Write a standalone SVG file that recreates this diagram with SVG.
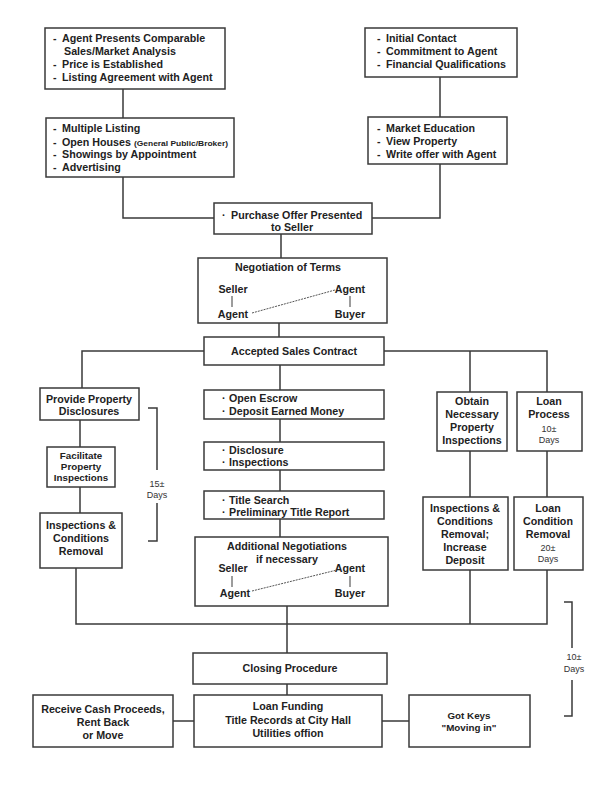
<svg xmlns="http://www.w3.org/2000/svg" width="600" height="800" viewBox="0 0 600 800">
<style>
.box{fill:#fff;stroke:#3a3a3a;stroke-width:1.5}
.ln{fill:none;stroke:#3a3a3a;stroke-width:1.5}
.dot{fill:none;stroke:#555;stroke-width:1;stroke-dasharray:2 1}
text{font-family:"Liberation Sans",Arial,sans-serif;font-weight:bold;font-size:10.7px;fill:#222}
.c{text-anchor:middle}
.s{font-size:9.8px}
.n{font-weight:normal;font-size:9px;fill:#333}
.tiny{font-size:7px;font-weight:bold}
</style>
<rect width="600" height="800" fill="#fff"/>
<g id="connectors">
<path class="ln" d="M123,89V118M440,77V117M123,177V218H214M440,164V218H372M281,234V258M279,323V337"/>
<path class="ln" d="M204,351H82V388M384,351H547V392M470,351V392M280,365V390M280,419V442M280,470V491M280,519V537"/>
<path class="ln" d="M80,420V447M80,487V513M470,451V497M547,451V497"/>
<path class="ln" d="M76,568V624H547V570M470,570V624M287,606V653M287,684V695M173,721H194M382,721H409"/>
<path class="ln" d="M148,408H157V470M157,503V541H148"/>
<path class="ln" d="M564,602H572V648M572,680V716H564"/>
</g>
<g id="n1"><rect class="box" x="45" y="28" width="180" height="61"/>
<text x="53" y="42">-</text><text x="62" y="42">Agent Presents Comparable</text>
<text x="64" y="55">Sales/Market Analysis</text>
<text x="53" y="68">-</text><text x="62" y="68">Price is Established</text>
<text x="53" y="81">-</text><text x="62" y="81">Listing Agreement with Agent</text></g>
<g id="n2"><rect class="box" x="46" y="118" width="188" height="59"/>
<text x="53" y="132">-</text><text x="62" y="132">Multiple Listing</text>
<text x="53" y="146">-</text><text x="62" y="146">Open Houses</text><text class="tiny" x="134" y="146" textLength="94" lengthAdjust="spacingAndGlyphs">(General Public/Broker)</text>
<text x="53" y="158">-</text><text x="62" y="158">Showings by Appointment</text>
<text x="53" y="171">-</text><text x="62" y="171">Advertising</text></g>
<g id="n3"><rect class="box" x="365" y="28" width="152" height="49"/>
<text x="377" y="42">-</text><text x="386" y="42">Initial Contact</text>
<text x="377" y="55">-</text><text x="386" y="55">Commitment to Agent</text>
<text x="377" y="68">-</text><text x="386" y="68">Financial Qualifications</text></g>
<g id="n4"><rect class="box" x="368" y="117" width="139" height="47"/>
<text x="377" y="132">-</text><text x="386" y="132">Market Education</text>
<text x="377" y="145">-</text><text x="386" y="145">View Property</text>
<text x="377" y="158">-</text><text x="386" y="158">Write offer with Agent</text></g>
<g id="n5"><rect class="box" x="214" y="203" width="158" height="31"/>
<text x="222" y="219">·</text><text x="231" y="219">Purchase Offer Presented</text>
<text class="c" x="292" y="231">to Seller</text></g>
<g id="n6"><rect class="box" x="198" y="258" width="189" height="65"/>
<text class="c" x="288" y="271">Negotiation of Terms</text>
<text class="c" x="233" y="293">Seller</text><text class="c" x="233" y="318">Agent</text>
<text class="c" x="350" y="293">Agent</text><text class="c" x="350" y="318">Buyer</text>
<path class="ln" style="stroke-width:1" d="M232,296V307M350,296V307"/>
<path class="dot" d="M252,313L335,290"/></g>
<g id="n7"><rect class="box" x="204" y="337" width="180" height="28"/>
<text class="c" x="294" y="355">Accepted Sales Contract</text></g>
<g id="n8"><rect class="box" x="40" y="388" width="99" height="32"/>
<text class="c" x="89" y="403">Provide Property</text><text class="c" x="89" y="415">Disclosures</text></g>
<g id="n9"><rect class="box" x="47" y="447" width="68" height="40"/>
<text class="c s" x="81" y="459">Facilitate</text><text class="c s" x="81" y="470">Property</text><text class="c s" x="81" y="481">Inspections</text></g>
<g id="n10"><rect class="box" x="40" y="513" width="82" height="55"/>
<text class="c" x="81" y="529">Inspections &amp;</text><text class="c" x="81" y="542">Conditions</text><text class="c" x="81" y="555">Removal</text></g>
<g id="d15"><text class="c n" x="157" y="487">15±</text><text class="c n" x="157" y="498">Days</text></g>
<g id="n11"><rect class="box" x="204" y="390" width="180" height="29"/>
<text x="222" y="402">·</text><text x="229" y="402">Open Escrow</text>
<text x="222" y="415">·</text><text x="229" y="415">Deposit Earned Money</text></g>
<g id="n12"><rect class="box" x="204" y="442" width="180" height="28"/>
<text x="222" y="454">·</text><text x="229" y="454">Disclosure</text>
<text x="222" y="466">·</text><text x="229" y="466">Inspections</text></g>
<g id="n13"><rect class="box" x="204" y="491" width="180" height="28"/>
<text x="222" y="504">·</text><text x="229" y="504">Title Search</text>
<text x="222" y="516">·</text><text x="229" y="516">Preliminary Title Report</text></g>
<g id="n14"><rect class="box" x="195" y="537" width="193" height="69"/>
<text class="c" x="287" y="550">Additional Negotiations</text>
<text class="c" x="287" y="563">if necessary</text>
<text class="c" x="233" y="572">Seller</text><text class="c" x="235" y="597">Agent</text>
<text class="c" x="350" y="572">Agent</text><text class="c" x="350" y="597">Buyer</text>
<path class="ln" style="stroke-width:1" d="M232,576V587M350,576V587"/>
<path class="dot" d="M252,591L337,570"/></g>
<g id="n15"><rect class="box" x="437" y="392" width="70" height="59"/>
<text class="c" x="472" y="405">Obtain</text><text class="c" x="472" y="418">Necessary</text><text class="c" x="472" y="431">Property</text><text class="c" x="472" y="444">Inspections</text></g>
<g id="n16"><rect class="box" x="517" y="392" width="65" height="59"/>
<text class="c" x="549" y="405">Loan</text><text class="c" x="549" y="418">Process</text>
<text class="c n" x="549" y="432">10±</text><text class="c n" x="549" y="443">Days</text></g>
<g id="n17"><rect class="box" x="423" y="497" width="85" height="73"/>
<text class="c" x="465" y="512">Inspections &amp;</text><text class="c" x="465" y="525">Conditions</text><text class="c" x="465" y="538">Removal;</text><text class="c" x="465" y="551">Increase</text><text class="c" x="465" y="564">Deposit</text></g>
<g id="n18"><rect class="box" x="514" y="497" width="69" height="73"/>
<text class="c" x="548" y="512">Loan</text><text class="c" x="548" y="525">Condition</text><text class="c" x="548" y="538">Removal</text>
<text class="c n" x="548" y="551">20±</text><text class="c n" x="548" y="562">Days</text></g>
<g id="d10"><text class="c n" x="574" y="660">10±</text><text class="c n" x="574" y="672">Days</text></g>
<g id="n19"><rect class="box" x="193" y="653" width="194" height="31"/>
<text class="c" x="290" y="672">Closing Procedure</text></g>
<g id="n20"><rect class="box" x="33" y="695" width="140" height="52"/>
<text class="c" x="103" y="713">Receive Cash Proceeds,</text><text class="c" x="103" y="726">Rent Back</text><text class="c" x="103" y="739">or Move</text></g>
<g id="n21"><rect class="box" x="194" y="695" width="188" height="52"/>
<text class="c" x="288" y="710">Loan Funding</text><text class="c" x="288" y="724">Title Records at City Hall</text><text class="c" x="288" y="737">Utilities offion</text></g>
<g id="n22"><rect class="box" x="409" y="695" width="121" height="52"/>
<text class="c s" x="469" y="719">Got Keys</text><text class="c s" x="469" y="731">"Moving in"</text></g>
</svg>
